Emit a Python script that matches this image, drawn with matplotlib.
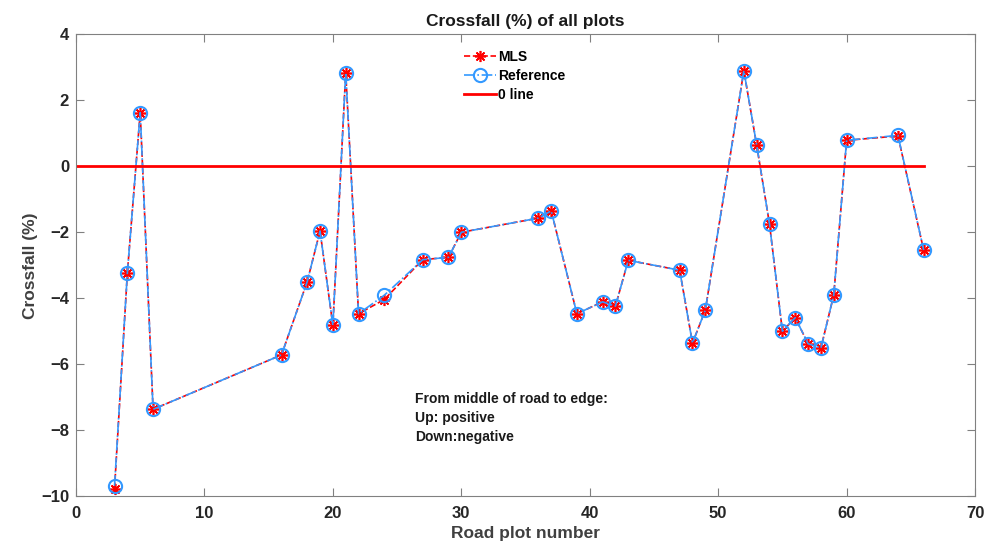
import matplotlib
matplotlib.use("Agg")
import matplotlib.pyplot as plt

# road plot numbers
plot_no = [3, 4, 5, 6, 16, 18, 19, 20, 21, 22, 24, 27, 29, 30, 36, 37, 39, 41,
           42, 43, 47, 48, 49, 52, 53, 54, 55, 56, 57, 58, 59, 60, 64, 66]

# crossfall (%) measured from MLS point cloud
mls = [-9.78, -3.22, 1.63, -7.37, -5.72, -3.5, -1.96, -4.82, 2.84, -4.47, -4.04,
       -2.83, -2.76, -2.0, -1.57, -1.35, -4.47, -4.11, -4.24, -2.85, -3.15,
       -5.36, -4.36, 2.9, 0.64, -1.76, -5.0, -4.59, -5.38, -5.51, -3.9, 0.79,
       0.92, -2.54]

# crossfall (%) of the reference survey
ref = [-9.69, -3.22, 1.63, -7.37, -5.72, -3.5, -1.96, -4.82, 2.84, -4.47, -3.91,
       -2.83, -2.76, -2.0, -1.57, -1.35, -4.47, -4.11, -4.24, -2.85, -3.15,
       -5.36, -4.36, 2.9, 0.64, -1.76, -5.0, -4.59, -5.38, -5.51, -3.9, 0.79,
       0.94, -2.54]

zero_x = [0, 66]
zero_y = [0, 0]

plt.rcParams["font.family"] = ["Liberation Sans", "DejaVu Sans"]
plt.rcParams["font.weight"] = "bold"

fig = plt.figure(figsize=(9.91, 5.44), dpi=100)
ax = fig.add_axes([0.0767, 0.0882, 0.9072, 0.8484])

blue = "#3399ff"
ax.plot(plot_no, mls, color="red", ls="--", lw=1.2, marker=(8, 2, 0),
        ms=8, mew=1.2, label="MLS")
ax.plot(plot_no, ref, color=blue, ls="-.", lw=1.2, marker="o", ms=9.5,
        mfc="none", mew=1.5, label="Reference")
ax.plot(zero_x, zero_y, color="red", lw=2, label="0 line")

ax.set_xlim(0, 70)
ax.set_ylim(-10, 4)
ax.set_xticks(range(0, 71, 10))
ax.set_yticks(range(-10, 5, 2))

ax.tick_params(direction="in", top=True, right=True, length=6,
               color="#808080", labelsize=12, labelcolor="#262626")
ax.tick_params(axis="x", pad=7)
ax.tick_params(axis="y", pad=5)
for s in ax.spines.values():
    s.set_color("#808080")

ax.set_title("Crossfall (%) of all plots", fontsize=12.5, fontweight="bold",
             color="#1a1a1a", pad=6)
ax.set_xlabel("Road plot number", fontsize=12.5, fontweight="bold",
              color="#404040", labelpad=4)
ax.set_ylabel("Crossfall (%)", fontsize=12.5, fontweight="bold",
              color="#404040", labelpad=2)

ax.legend(loc="upper left", bbox_to_anchor=(0.425, 0.978), frameon=False,
          fontsize=10, handlelength=2.3, handletextpad=0.2, labelspacing=0.35,
          borderaxespad=0)

ax.text(26.4, -6.85, "From middle of road to edge:\nUp: positive\nDown:negative",
        fontsize=10, fontweight="bold", color="#1a1a1a", va="top",
        linespacing=1.45)

fig.savefig("out.png", dpi=100)
